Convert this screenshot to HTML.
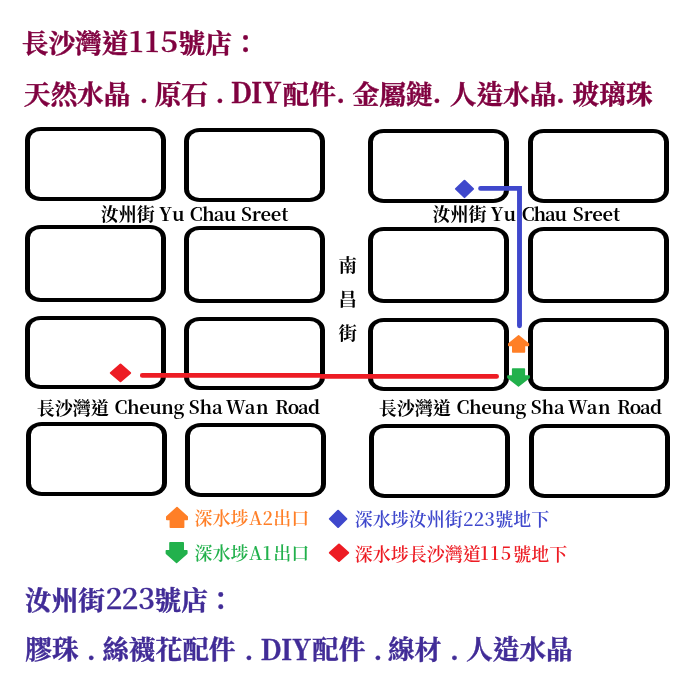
<!DOCTYPE html>
<html lang="zh-Hant">
<head>
<meta charset="utf-8">
<title>Map</title>
<style>
html,body{margin:0;padding:0;background:#fff;}
body{width:699px;height:699px;position:relative;overflow:hidden;}
svg{position:absolute;left:0;top:0;display:block;}
text{font-family:"Noto Serif CJK TC","Noto Serif CJK SC","Liberation Serif",serif;white-space:pre;}
.h{font-weight:700;font-size:26.67px;fill:#800040;stroke:#800040;stroke-width:0.4px;}
.b{font-weight:700;font-size:26.67px;fill:#412c97;stroke:#412c97;stroke-width:0.4px;}
.hd{font-weight:600;font-size:27.6px;stroke-width:0.3px;}
.s{font-size:18.4px;fill:#000;font-weight:700;}
.sc{font-size:18px;font-weight:700;}
.v{font-size:18.4px;font-weight:700;}
.l{font-size:18px;font-weight:600;}
</style>
</head>
<body>
<svg width="699" height="699" viewBox="0 0 699 699">
<rect x="0" y="0" width="699" height="699" fill="#fff"/>
<rect x="25" y="127" width="141" height="74" rx="16" ry="13" fill="#000"/><rect x="30" y="131" width="131" height="66" rx="10.5" ry="8.5" fill="#fff"/>
<rect x="184" y="128" width="141" height="74" rx="16" ry="13" fill="#000"/><rect x="189" y="132" width="131" height="66" rx="10.5" ry="8.5" fill="#fff"/>
<rect x="25" y="225" width="141" height="77" rx="16" ry="13" fill="#000"/><rect x="30" y="229" width="131" height="69" rx="10.5" ry="8.5" fill="#fff"/>
<rect x="184" y="226" width="141" height="77" rx="16" ry="13" fill="#000"/><rect x="189" y="230" width="131" height="69" rx="10.5" ry="8.5" fill="#fff"/>
<rect x="25" y="316" width="141" height="73" rx="16" ry="13" fill="#000"/><rect x="30" y="320" width="131" height="65" rx="10.5" ry="8.5" fill="#fff"/>
<rect x="184" y="317" width="141" height="73" rx="16" ry="13" fill="#000"/><rect x="189" y="321" width="131" height="65" rx="10.5" ry="8.5" fill="#fff"/>
<rect x="26" y="422" width="141" height="74" rx="16" ry="13" fill="#000"/><rect x="31" y="426" width="131" height="66" rx="10.5" ry="8.5" fill="#fff"/>
<rect x="185" y="423" width="141" height="74" rx="16" ry="13" fill="#000"/><rect x="190" y="427" width="131" height="66" rx="10.5" ry="8.5" fill="#fff"/>
<rect x="368" y="129" width="141" height="74" rx="16" ry="13" fill="#000"/><rect x="373" y="133" width="131" height="66" rx="10.5" ry="8.5" fill="#fff"/>
<rect x="528" y="129" width="141" height="74" rx="16" ry="13" fill="#000"/><rect x="533" y="133" width="131" height="66" rx="10.5" ry="8.5" fill="#fff"/>
<rect x="368" y="227" width="141" height="76" rx="16" ry="13" fill="#000"/><rect x="373" y="231" width="131" height="68" rx="10.5" ry="8.5" fill="#fff"/>
<rect x="528" y="227" width="141" height="76" rx="16" ry="13" fill="#000"/><rect x="533" y="231" width="131" height="68" rx="10.5" ry="8.5" fill="#fff"/>
<rect x="368" y="318" width="141" height="73" rx="16" ry="13" fill="#000"/><rect x="373" y="322" width="131" height="65" rx="10.5" ry="8.5" fill="#fff"/>
<rect x="528" y="318" width="141" height="73" rx="16" ry="13" fill="#000"/><rect x="533" y="322" width="131" height="65" rx="10.5" ry="8.5" fill="#fff"/>
<rect x="369" y="424" width="141" height="74" rx="16" ry="13" fill="#000"/><rect x="374" y="428" width="131" height="66" rx="10.5" ry="8.5" fill="#fff"/>
<rect x="529" y="424" width="141" height="74" rx="16" ry="13" fill="#000"/><rect x="534" y="428" width="131" height="66" rx="10.5" ry="8.5" fill="#fff"/>
<g opacity="0.999">
<text x="21.8" y="52.7" class="h">長沙灣道</text>
<text transform="translate(136.2,52) scale(1.1,1)" class="h hd" text-anchor="middle">1</text>
<text transform="translate(151.9,52) scale(1.1,1)" class="h hd" text-anchor="middle">1</text>
<text transform="translate(169.4,52) scale(1.1,1)" class="h hd" text-anchor="middle">5</text>
<text x="178.6" y="52.7" class="h">號店</text>
<text x="232.3" y="52.7" class="h">：</text>
<text x="23.8" y="104.3" class="h">天然水晶</text>
<text x="139.4" y="103" class="h">.</text>
<text x="154.7" y="104.3" class="h">原石</text>
<text x="215.5" y="103" class="h">.</text>
<text transform="translate(230.7,103) scale(1.0,1.05)" class="h">DIY</text>
<text x="282.6" y="104.3" class="h">配件</text>
<text x="336.2" y="103" class="h">.</text>
<text x="352.6" y="104.3" class="h">金屬鏈</text>
<text x="432.6" y="103" class="h">.</text>
<text x="449.8" y="104.3" class="h">人造水晶</text>
<text x="556.1" y="103" class="h">.</text>
<text x="572.6" y="104.3" class="h">玻璃珠</text>
<text x="100.8" y="221.3" class="s sc">汝州街</text>
<text x="159.0" y="221" class="s" letter-spacing="1.5">Yu</text>
<text x="189.8" y="221" class="s" letter-spacing="-0.7">Chau</text>
<text x="240.9" y="220.8" class="s" letter-spacing="-0.15">Sreet</text>
<text x="432.6" y="221.1" class="s sc">汝州街</text>
<text x="490.6" y="220.8" class="s" letter-spacing="1.5">Yu</text>
<text x="521.8" y="220.8" class="s" letter-spacing="-1.1">Chau</text>
<text x="572.8" y="220.8" class="s" letter-spacing="-0.2">Sreet</text>
<text x="36.8" y="414.8" class="s sc">長沙灣道</text>
<text x="114.4" y="413.8" class="s" letter-spacing="-0.4">Cheung</text>
<text x="188.8" y="413.8" class="s" letter-spacing="-0.2">Sha</text>
<text x="225.8" y="413.8" class="s" letter-spacing="0.5">Wan</text>
<text x="275.0" y="413.8" class="s" letter-spacing="-0.9">Road</text>
<text x="378.8" y="414.8" class="s sc">長沙灣道</text>
<text x="456.4" y="413.8" class="s" letter-spacing="-0.4">Cheung</text>
<text x="530.8" y="413.8" class="s" letter-spacing="-0.2">Sha</text>
<text x="567.8" y="413.8" class="s" letter-spacing="0.5">Wan</text>
<text x="617.0" y="413.8" class="s" letter-spacing="-0.9">Road</text>
<text x="338.6" y="272" class="s v">南</text>
<text x="338.6" y="306.3" class="s v">昌</text>
<text x="338.6" y="340" class="s v">街</text>
<text x="194.4" y="525.3" class="l" fill="#ff7f27">深水埗</text>
<text x="248.9" y="525" class="l" fill="#ff7f27">A</text>
<text x="262.6" y="525" class="l" fill="#ff7f27">2</text>
<text x="273.2" y="525.3" class="l" fill="#ff7f27">出口</text>
<text x="194.4" y="560.3" class="l" fill="#22b14c">深水埗</text>
<text x="248.9" y="560" class="l" fill="#22b14c">A</text>
<text x="262.8" y="560" class="l" fill="#22b14c">1</text>
<text x="273.2" y="560.3" class="l" fill="#22b14c">出口</text>
<text x="354.8" y="526" class="l" fill="#3f48cc">深水埗汝州街</text>
<text x="468.1" y="525.7" class="l" text-anchor="middle" fill="#3f48cc">2</text>
<text x="478.9" y="525.7" class="l" text-anchor="middle" fill="#3f48cc">2</text>
<text x="489.7" y="525.7" class="l" text-anchor="middle" fill="#3f48cc">3</text>
<text x="495.3" y="526" class="l" fill="#3f48cc">號地下</text>
<text x="354.8" y="560.5" class="l" fill="#ed1c24">深水埗長沙灣道</text>
<text x="484.4" y="560.2" class="l" text-anchor="middle" fill="#ed1c24">1</text>
<text x="494.7" y="560.2" class="l" text-anchor="middle" fill="#ed1c24">1</text>
<text x="506.0" y="560.2" class="l" text-anchor="middle" fill="#ed1c24">5</text>
<text x="513.2" y="560.5" class="l" fill="#ed1c24">號地下</text>
<text x="25.0" y="610.0" class="b">汝州街</text>
<text transform="translate(113.9,608.9) scale(1.06,1)" class="b hd" text-anchor="middle">2</text>
<text transform="translate(130.0,608.9) scale(1.06,1)" class="b hd" text-anchor="middle">2</text>
<text transform="translate(146.6,608.9) scale(1.06,1)" class="b hd" text-anchor="middle">3</text>
<text x="154.6" y="610.0" class="b">號店</text>
<text x="207.6" y="610.0" class="b">：</text>
<text x="25.3" y="659.3" class="b">膠珠</text>
<text x="86.8" y="660" class="b">.</text>
<text x="102.2" y="659.3" class="b">絲襪花配件</text>
<text x="244.4" y="660" class="b">.</text>
<text transform="translate(260.5,660) scale(1.0,1.05)" class="b">DIY</text>
<text x="312.0" y="659.3" class="b">配件</text>
<text x="373.6" y="660" class="b">.</text>
<text x="387.9" y="659.3" class="b">線材</text>
<text x="450" y="660" class="b">.</text>
<text x="466.1" y="659.3" class="b">人造水晶</text>
</g>
<path d="M480.6 188.4 H519.5 V325.7" fill="none" stroke="#3f48cc" stroke-width="4.9" stroke-linecap="round" stroke-linejoin="miter"/>
<path d="M142.3 373 H320 V374 H496.6 A2.4 2.4 0 0 1 496.6 378.8 H320 V377.8 H142.3 A2.4 2.4 0 0 1 142.3 373 Z" fill="#ed1c24"/>
<path d="M455.9 188.9 L464.5 180.70000000000002 L473.1 188.9 L464.5 197.1 Z" fill="#3f48cc" stroke="#3f48cc" stroke-width="2" stroke-linejoin="round"/>
<path d="M110.8 372.9 L120.5 364.59999999999997 L130.2 372.9 L120.5 381.2 Z" fill="#ed1c24" stroke="#ed1c24" stroke-width="2" stroke-linejoin="round"/>
<path d="M518.60 335.90 L528.40 343.90 L528.40 345.40 L524.40 345.40 L524.40 351.90 L512.80 351.90 L512.80 345.40 L508.80 345.40 L508.80 343.90 Z" fill="#ff7f27" stroke="#ff7f27" stroke-width="1.6" stroke-linejoin="round"/>
<path d="M518.50 385.90 L529.10 377.50 L529.10 376.00 L524.30 376.00 L524.30 369.00 L512.70 369.00 L512.70 376.00 L507.90 376.00 L507.90 377.50 Z" fill="#22b14c" stroke="#22b14c" stroke-width="1.6" stroke-linejoin="round"/>
<path d="M177.00 507.60 L187.20 516.80 L187.20 519.40 L183.60 519.40 L183.60 527.20 L170.40 527.20 L170.40 519.40 L166.80 519.40 L166.80 516.80 Z" fill="#ff7f27" stroke="#ff7f27" stroke-width="1.6" stroke-linejoin="round"/>
<path d="M176.60 562.50 L186.80 553.30 L186.80 550.70 L183.20 550.70 L183.20 542.90 L170.00 542.90 L170.00 550.70 L166.40 550.70 L166.40 553.30 Z" fill="#22b14c" stroke="#22b14c" stroke-width="1.6" stroke-linejoin="round"/>
<path d="M329.8 518.9 L338.1 510.79999999999995 L346.40000000000003 518.9 L338.1 527.0 Z" fill="#3f48cc" stroke="#3f48cc" stroke-width="2" stroke-linejoin="round"/>
<path d="M329.8 552.8 L339 544.5999999999999 L348.2 552.8 L339 561.0 Z" fill="#ed1c24" stroke="#ed1c24" stroke-width="2" stroke-linejoin="round"/>
</svg>
</body>
</html>
